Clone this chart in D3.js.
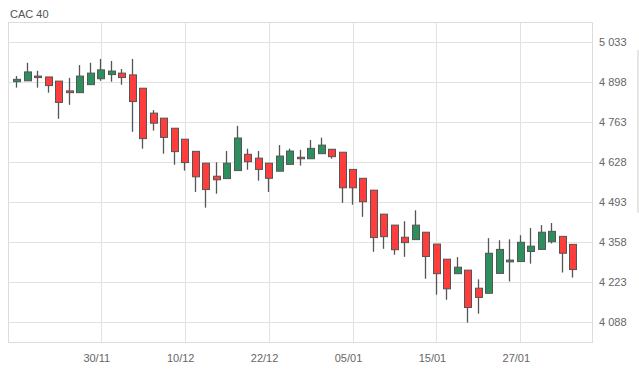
<!DOCTYPE html>
<html>
<head>
<meta charset="utf-8">
<script src="https://cdn.jsdelivr.net/npm/d3@7"></script>
<style>
  html, body { margin: 0; padding: 0; background: #fff; }
  svg { display: block; font-family: "Liberation Sans", Arial, sans-serif; }
</style>
</head>
<body>
<svg id="chart" width="639" height="374"></svg>
<script>
const title = "CAC 40";
const dates = ["18/11","19/11","20/11","23/11","24/11","25/11","26/11","27/11","30/11",
  "01/12","02/12","03/12","04/12","07/12","08/12","09/12","10/12",
  "11/12","14/12","15/12","16/12","17/12","18/12","21/12","22/12",
  "23/12","24/12","28/12","29/12","30/12","31/12","04/01","05/01",
  "06/01","07/01","08/01","11/01","12/01","13/01","14/01","15/01",
  "18/01","19/01","20/01","21/01","22/01","25/01","26/01","27/01",
  "28/01","29/01","01/02","02/02","03/02"];
const open  = [4899,4902,4918,4915,4901,4868,4862,4889,4909,4923,4928,4922,4877,4793,4776,4742,4705,4664,4624,4580,4572,4599,4654,4641,4624,4597,4620,4644,4639,4656,4671,4661,4603,4573,4533,4452,4415,4374,4366,4391,4351,4300,4251,4263,4202,4185,4252,4291,4292,4326,4333,4359,4377,4350];
const high  = [4918,4963,4936,4915,4901,4912,4955,4963,4976,4969,4942,4976,4877,4803,4776,4742,4705,4664,4624,4627,4665,4750,4673,4665,4624,4685,4673,4669,4702,4710,4671,4661,4603,4573,4533,4452,4415,4428,4465,4391,4351,4300,4307,4263,4232,4371,4364,4367,4381,4405,4415,4422,4377,4350];
const low   = [4879,4902,4879,4862,4774,4821,4862,4889,4902,4899,4889,4730,4673,4734,4656,4619,4599,4527,4474,4521,4572,4599,4602,4565,4527,4597,4620,4616,4639,4656,4639,4490,4484,4443,4325,4335,4315,4308,4366,4234,4180,4163,4251,4086,4116,4185,4252,4225,4292,4285,4333,4353,4255,4238];
const close = [4907,4932,4913,4886,4829,4862,4918,4928,4939,4935,4913,4832,4707,4759,4711,4663,4626,4578,4535,4568,4624,4709,4629,4603,4573,4648,4665,4639,4674,4685,4646,4541,4541,4494,4373,4376,4332,4356,4415,4309,4251,4200,4273,4137,4171,4320,4333,4297,4357,4344,4391,4394,4320,4265];
const yTicks = [4088,4223,4358,4493,4628,4763,4898,5033];
const xTickLabels = ["30/11","10/12","22/12","05/01","15/01","27/01"];

const svg = d3.select("#chart");
const L = 8, R = 592, T = 22, B = 342;

const x = d3.scaleLinear().domain([-0.84, 54.83]).range([L, R]);
const y = d3.scaleLinear().domain([4020.5, 5100.5]).range([B, T]);
const crisp = v => Math.round(v) + 0.5;

// title
svg.append("text").attr("x", 10).attr("y", 18).attr("font-size", 11)
  .attr("fill", "#555").text(title);

// horizontal gridlines
const yAxis = d3.axisRight(y).tickValues(yTicks).tickSize(0)
  .tickFormat(v => d3.format(",")(v).replace(/,/g, " "));
const ga = svg.append("g").attr("transform", `translate(${R + 4},0)`).call(yAxis);
ga.select(".domain").remove();
ga.selectAll("text").attr("font-size", 11).attr("fill", "#666")
  .attr("font-family", "Liberation Sans, Arial, sans-serif").attr("dx", 0);

svg.append("g").selectAll("line").data(yTicks).join("line")
  .attr("x1", L).attr("x2", R)
  .attr("y1", d => crisp(y(d))).attr("y2", d => crisp(y(d)))
  .attr("stroke", "#e2e2e2").attr("stroke-width", 1);

// vertical gridlines + x labels
const xIdx = xTickLabels.map(l => dates.indexOf(l));
svg.append("g").selectAll("line").data(xIdx).join("line")
  .attr("x1", d => crisp(x(d))).attr("x2", d => crisp(x(d)))
  .attr("y1", T).attr("y2", B)
  .attr("stroke", "#e2e2e2").attr("stroke-width", 1);
svg.append("g").selectAll("text").data(xIdx).join("text")
  .attr("x", d => x(d) - 4).attr("y", 362)
  .attr("text-anchor", "middle").attr("font-size", 11).attr("fill", "#666")
  .text(d => dates[d]);

// plot border
svg.append("rect").attr("x", L + 0.5).attr("y", T + 0.5)
  .attr("width", R - L).attr("height", B - T)
  .attr("fill", "none").attr("stroke", "#dcdcdc");

// scrollbar hint at right edge
svg.append("rect").attr("x", 637).attr("y", 50).attr("width", 2).attr("height", 163).attr("fill", "#e6e6e6");

// candles
const data = dates.map((d, i) => ({i, o: open[i], h: high[i], l: low[i], c: close[i]}));
const g = svg.append("g");
const bw = 7;
g.selectAll("line.wick").data(data).join("line").attr("class", "wick")
  .attr("x1", d => crisp(x(d.i) - 0.5)).attr("x2", d => crisp(x(d.i) - 0.5))
  .attr("y1", d => y(d.h)).attr("y2", d => y(d.l))
  .attr("stroke", "#555").attr("stroke-width", 1.3);
g.selectAll("rect.body").data(data).join("rect").attr("class", "body")
  .attr("x", d => Math.round(x(d.i) - bw / 2) + 0.5)
  .attr("y", d => y(Math.max(d.o, d.c)))
  .attr("width", bw)
  .attr("height", d => Math.max(1.5, Math.abs(y(d.o) - y(d.c))))
  .attr("fill", d => d.c >= d.o ? "#2e8f5e" : "#ff3d3d")
  .attr("stroke", "#555").attr("stroke-width", 1);
</script>
</body>
</html>
